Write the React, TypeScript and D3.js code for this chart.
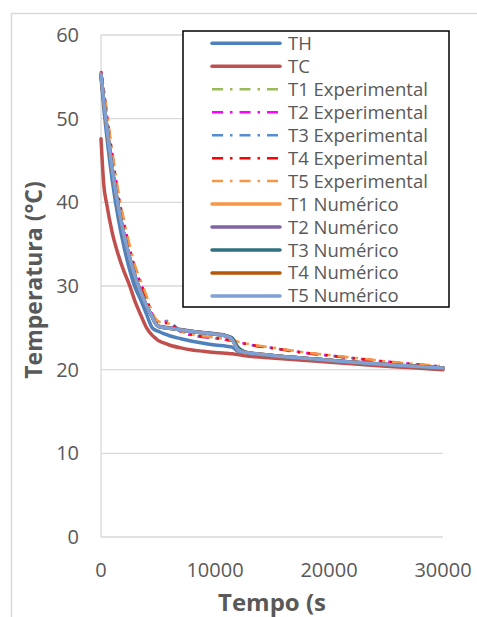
import React from "react";
import * as d3 from "d3";

const TIME = [0, 250, 500, 1000, 1500, 2000, 2500, 3000, 3500, 4000, 4500, 4750, 5000, 5500, 6000, 7000, 8000, 9000, 10000, 11000, 11500, 12000, 12500, 13000, 15000, 18000, 21000, 24000, 27000, 30000];

const TH = [55.0, 51.2, 48.0, 42.5, 38.2, 34.8, 32.0, 29.8, 28.3, 26.6, 25.0, 24.75, 24.6, 24.3, 24.05, 23.7, 23.4, 23.15, 22.95, 22.8, 22.7, 22.2, 22.05, 21.95, 21.7, 21.35, 21.0, 20.7, 20.45, 20.2];
const TC = [47.6, 42.0, 39.8, 36.3, 33.8, 31.8, 30.1, 28.1, 26.5, 25.0, 24.1, 23.8, 23.5, 23.2, 22.95, 22.6, 22.35, 22.2, 22.05, 21.95, 21.9, 21.8, 21.7, 21.6, 21.4, 21.1, 20.8, 20.5, 20.25, 20.0];

const T1_EXP = [55.5, 53.2, 50.5, 45.5, 40.9, 37.5, 34.5, 31.9, 30.2, 28.4, 26.5, 25.9, 25.8, 25.9, 25.7, 24.6, 24.1, 23.9, 23.75, 23.55, 23.45, 23.25, 23.1, 22.95, 22.55, 21.95, 21.5, 21.05, 20.65, 20.3];
const T2_EXP = [55.7, 53.3, 50.6, 45.6, 41.0, 37.6, 34.6, 32.0, 30.3, 28.5, 26.6, 26.0, 25.8, 25.8, 25.6, 24.5, 24.1, 23.9, 23.75, 23.55, 23.45, 23.3, 23.15, 23.0, 22.6, 22.0, 21.55, 21.1, 20.7, 20.35];
const T3_EXP = [55.5, 53.2, 50.5, 45.5, 41.0, 37.5, 34.5, 32.0, 30.2, 28.4, 26.5, 25.9, 25.7, 25.8, 25.7, 24.6, 24.15, 23.95, 23.8, 23.6, 23.5, 23.3, 23.15, 23.0, 22.6, 22.0, 21.55, 21.1, 20.7, 20.35];
const T4_EXP = [55.6, 53.3, 50.6, 45.6, 41.0, 37.6, 34.6, 32.0, 30.3, 28.5, 26.6, 26.0, 25.7, 25.6, 25.5, 24.6, 24.15, 23.95, 23.8, 23.6, 23.5, 23.3, 23.15, 23.0, 22.6, 22.0, 21.55, 21.1, 20.7, 20.35];
const T5_EXP = [55.4, 53.6, 51.0, 46.0, 41.5, 38.0, 35.0, 32.4, 30.6, 28.8, 26.9, 26.2, 25.8, 25.6, 25.5, 24.6, 24.2, 24.0, 23.85, 23.65, 23.55, 23.35, 23.2, 23.05, 22.65, 22.05, 21.6, 21.15, 20.75, 20.4];

const T1_NUM = [55.3, 52.0, 49.1, 43.8, 39.6, 36.2, 33.4, 31.1, 29.2, 27.6, 26.3, 25.6, 25.2, 25.05, 24.95, 24.75, 24.55, 24.4, 24.25, 24.0, 23.6, 22.4, 22.1, 22.0, 21.7, 21.35, 21.0, 20.7, 20.45, 20.2];
const T2_NUM = [55.3, 52.0, 49.1, 43.8, 39.6, 36.2, 33.4, 31.1, 29.2, 27.6, 26.3, 25.6, 25.25, 25.1, 25.0, 24.8, 24.6, 24.45, 24.3, 24.05, 23.7, 22.5, 22.15, 22.0, 21.7, 21.35, 21.0, 20.7, 20.45, 20.2];
const T3_NUM = [55.3, 52.0, 49.1, 43.8, 39.6, 36.2, 33.4, 31.1, 29.2, 27.6, 26.3, 25.6, 25.2, 25.05, 24.95, 24.75, 24.55, 24.4, 24.25, 24.05, 23.8, 22.7, 22.2, 22.0, 21.7, 21.35, 21.0, 20.7, 20.45, 20.2];
const T4_NUM = [55.3, 52.0, 49.1, 43.8, 39.6, 36.2, 33.4, 31.1, 29.2, 27.6, 26.3, 25.6, 25.2, 25.05, 24.95, 24.75, 24.55, 24.4, 24.25, 24.0, 23.65, 22.45, 22.1, 22.0, 21.7, 21.35, 21.0, 20.7, 20.45, 20.2];
const T5_NUM = [55.3, 52.0, 49.1, 43.8, 39.6, 36.2, 33.4, 31.1, 29.2, 27.6, 26.3, 25.6, 25.2, 25.05, 24.95, 24.75, 24.55, 24.4, 24.25, 24.0, 23.6, 22.4, 22.1, 22.0, 21.7, 21.35, 21.0, 20.7, 20.45, 20.2];

const Y_TICKS = [0, 10, 20, 30, 40, 50, 60];
const X_TICKS = [0, 10000, 20000, 30000];

const SERIES = [
  { name: "TH", values: TH, color: "#4F81BD", dashed: false },
  { name: "TC", values: TC, color: "#C0504D", dashed: false },
  { name: "T1 Experimental", values: T1_EXP, color: "#9BBB59", dashed: true },
  { name: "T2 Experimental", values: T2_EXP, color: "#FF00FF", dashed: true },
  { name: "T3 Experimental", values: T3_EXP, color: "#558ED5", dashed: true },
  { name: "T4 Experimental", values: T4_EXP, color: "#FF0000", dashed: true },
  { name: "T5 Experimental", values: T5_EXP, color: "#F79646", dashed: true },
  { name: "T1 Numérico", values: T1_NUM, color: "#F79646", dashed: false },
  { name: "T2 Numérico", values: T2_NUM, color: "#8064A2", dashed: false },
  { name: "T3 Numérico", values: T3_NUM, color: "#31707F", dashed: false },
  { name: "T4 Numérico", values: T4_NUM, color: "#B65708", dashed: false },
  { name: "T5 Numérico", values: T5_NUM, color: "#7EA0D4", dashed: false },
];

const FONT = "'Open Sans', sans-serif";
const GRAY = "#595959";
const GRID = "#D9D9D9";
const DASH = "11,7,2.5,7";

export default function App() {
  const x = d3.scaleLinear().domain([0, 30000]).range([101, 443]);
  const y = d3.scaleLinear().domain([0, 60]).range([537, 35]);
  const line = d3
    .line<number>()
    .x((_, i) => x(TIME[i]))
    .y((d) => y(d))
    .curve(d3.curveMonotoneX);

  const legX = 183, legY = 31, legW = 266, legH = 276;
  const rowY = (i: number) => 43.3 + i * 22.97;

  return (
    <svg
      width={477}
      height={617}
      style={{ position: "absolute", left: 0, top: 0, background: "#fff" }}
    >
      <rect x={0} y={0} width={477} height={617} fill="#fff" />
      <rect x={11.5} y={13.5} width={600} height={700} fill="none" stroke={GRID} strokeWidth={1.5} />
      {Y_TICKS.map((t) => (
        <line key={"g" + t} x1={x(0)} x2={x(30000)} y1={y(t)} y2={y(t)} stroke={GRID} strokeWidth={1.3} />
      ))}
      <line x1={x(0)} x2={x(0)} y1={y(0)} y2={y(60)} stroke={GRID} strokeWidth={1.3} />
      {Y_TICKS.map((t) => (
        <text key={"yt" + t} x={79} y={y(t)} dy="0.35em" textAnchor="end" fontFamily={FONT} fontSize={20} fill={GRAY}>
          {t}
        </text>
      ))}
      {X_TICKS.map((t) => (
        <text key={"xt" + t} x={x(t)} y={569.5} dy="0.35em" textAnchor="middle" fontFamily={FONT} fontSize={20} fill={GRAY}>
          {t}
        </text>
      ))}
      <text x={272} y={611} textAnchor="middle" fontFamily={FONT} fontSize={24} fontWeight="bold" fill={GRAY}>
        Tempo (s
      </text>
      <text
        transform="translate(42,280) rotate(-90)"
        textAnchor="middle"
        fontFamily={FONT}
        fontSize={23}
        fontWeight="bold"
        fill={GRAY}
      >
        Temperatura (°C)
      </text>
      {SERIES.map((s) => (
        <path
          key={s.name}
          d={line(s.values) || ""}
          fill="none"
          stroke={s.color}
          strokeWidth={s.dashed ? 2.5 : 3.5}
          strokeDasharray={s.dashed ? DASH : undefined}
          strokeLinejoin="round"
          strokeLinecap={s.dashed ? "butt" : "round"}
        />
      ))}
      <rect x={legX} y={legY} width={legW} height={legH} fill="#fff" stroke="#000" strokeWidth={1.5} />
      {SERIES.map((s, i) => (
        <g key={"l" + s.name}>
          <line
            x1={212}
            x2={280}
            y1={rowY(i)}
            y2={rowY(i)}
            stroke={s.color}
            strokeWidth={s.dashed ? 2.5 : 3.5}
            strokeDasharray={s.dashed ? DASH : undefined}
            strokeLinecap={s.dashed ? "butt" : "round"}
          />
          <text x={288} y={rowY(i)} dy="0.35em" fontFamily={FONT} fontSize={18.5} fill={GRAY}>
            {s.name}
          </text>
        </g>
      ))}
    </svg>
  );
}
